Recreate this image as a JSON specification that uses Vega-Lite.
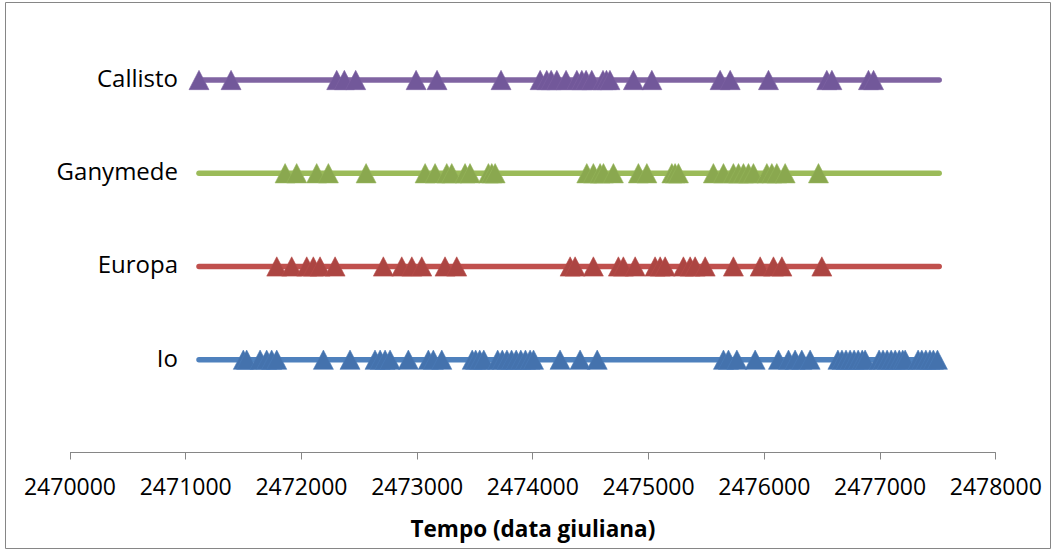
{
  "$schema": "https://vega.github.io/schema/vega-lite/v6.json",
  "width": 1045,
  "height": 546,
  "autosize": {"type": "none"},
  "padding": {"left": 5, "top": 2, "right": 4, "bottom": 1},
  "background": "white",
  "config": {"view": {"stroke": "#868686", "strokeWidth": 1}, "font": "Open Sans"},
  "datasets": {
    "lines": [
      {"moon": "Callisto", "start": 2471119, "end": 2477515},
      {"moon": "Ganymede", "start": 2471119, "end": 2477515},
      {"moon": "Europa", "start": 2471119, "end": 2477515},
      {"moon": "Io", "start": 2471119, "end": 2477515}
    ],
    "events": [
      {"moon": "Callisto", "t": 2471119}, {"moon": "Callisto", "t": 2471396}, {"moon": "Callisto", "t": 2472309}, {"moon": "Callisto", "t": 2472375}, {"moon": "Callisto", "t": 2472473}, {"moon": "Callisto", "t": 2472995}, {"moon": "Callisto", "t": 2473176}, {"moon": "Callisto", "t": 2473729}, {"moon": "Callisto", "t": 2474067}, {"moon": "Callisto", "t": 2474124}, {"moon": "Callisto", "t": 2474162}, {"moon": "Callisto", "t": 2474211}, {"moon": "Callisto", "t": 2474291}, {"moon": "Callisto", "t": 2474384}, {"moon": "Callisto", "t": 2474427}, {"moon": "Callisto", "t": 2474464}, {"moon": "Callisto", "t": 2474513}, {"moon": "Callisto", "t": 2474610}, {"moon": "Callisto", "t": 2474640}, {"moon": "Callisto", "t": 2474670}, {"moon": "Callisto", "t": 2474873}, {"moon": "Callisto", "t": 2475032}, {"moon": "Callisto", "t": 2475622}, {"moon": "Callisto", "t": 2475709}, {"moon": "Callisto", "t": 2476040}, {"moon": "Callisto", "t": 2476544}, {"moon": "Callisto", "t": 2476588}, {"moon": "Callisto", "t": 2476904}, {"moon": "Callisto", "t": 2476948},
      {"moon": "Ganymede", "t": 2471863}, {"moon": "Ganymede", "t": 2471963}, {"moon": "Ganymede", "t": 2472136}, {"moon": "Ganymede", "t": 2472237}, {"moon": "Ganymede", "t": 2472563}, {"moon": "Ganymede", "t": 2473073}, {"moon": "Ganymede", "t": 2473159}, {"moon": "Ganymede", "t": 2473260}, {"moon": "Ganymede", "t": 2473303}, {"moon": "Ganymede", "t": 2473418}, {"moon": "Ganymede", "t": 2473461}, {"moon": "Ganymede", "t": 2473620}, {"moon": "Ganymede", "t": 2473649}, {"moon": "Ganymede", "t": 2473678}, {"moon": "Ganymede", "t": 2474470}, {"moon": "Ganymede", "t": 2474527}, {"moon": "Ganymede", "t": 2474585}, {"moon": "Ganymede", "t": 2474614}, {"moon": "Ganymede", "t": 2474700}, {"moon": "Ganymede", "t": 2474916}, {"moon": "Ganymede", "t": 2474989}, {"moon": "Ganymede", "t": 2475205}, {"moon": "Ganymede", "t": 2475233}, {"moon": "Ganymede", "t": 2475262}, {"moon": "Ganymede", "t": 2475564}, {"moon": "Ganymede", "t": 2475651}, {"moon": "Ganymede", "t": 2475737}, {"moon": "Ganymede", "t": 2475781}, {"moon": "Ganymede", "t": 2475824}, {"moon": "Ganymede", "t": 2475867}, {"moon": "Ganymede", "t": 2475910}, {"moon": "Ganymede", "t": 2476026}, {"moon": "Ganymede", "t": 2476069}, {"moon": "Ganymede", "t": 2476112}, {"moon": "Ganymede", "t": 2476184}, {"moon": "Ganymede", "t": 2476472},
      {"moon": "Europa", "t": 2471791}, {"moon": "Europa", "t": 2471920}, {"moon": "Europa", "t": 2472050}, {"moon": "Europa", "t": 2472107}, {"moon": "Europa", "t": 2472165}, {"moon": "Europa", "t": 2472295}, {"moon": "Europa", "t": 2472712}, {"moon": "Europa", "t": 2472871}, {"moon": "Europa", "t": 2472958}, {"moon": "Europa", "t": 2473044}, {"moon": "Europa", "t": 2473245}, {"moon": "Europa", "t": 2473346}, {"moon": "Europa", "t": 2474326}, {"moon": "Europa", "t": 2474369}, {"moon": "Europa", "t": 2474527}, {"moon": "Europa", "t": 2474743}, {"moon": "Europa", "t": 2474786}, {"moon": "Europa", "t": 2474888}, {"moon": "Europa", "t": 2475060}, {"moon": "Europa", "t": 2475104}, {"moon": "Europa", "t": 2475147}, {"moon": "Europa", "t": 2475305}, {"moon": "Europa", "t": 2475363}, {"moon": "Europa", "t": 2475406}, {"moon": "Europa", "t": 2475493}, {"moon": "Europa", "t": 2475737}, {"moon": "Europa", "t": 2475968}, {"moon": "Europa", "t": 2476083}, {"moon": "Europa", "t": 2476156}, {"moon": "Europa", "t": 2476501},
      {"moon": "Io", "t": 2471502}, {"moon": "Io", "t": 2471531}, {"moon": "Io", "t": 2471647}, {"moon": "Io", "t": 2471704}, {"moon": "Io", "t": 2471747}, {"moon": "Io", "t": 2471791}, {"moon": "Io", "t": 2472194}, {"moon": "Io", "t": 2472424}, {"moon": "Io", "t": 2472640}, {"moon": "Io", "t": 2472684}, {"moon": "Io", "t": 2472727}, {"moon": "Io", "t": 2472770}, {"moon": "Io", "t": 2472928}, {"moon": "Io", "t": 2473101}, {"moon": "Io", "t": 2473144}, {"moon": "Io", "t": 2473217}, {"moon": "Io", "t": 2473480}, {"moon": "Io", "t": 2473510}, {"moon": "Io", "t": 2473545}, {"moon": "Io", "t": 2473580}, {"moon": "Io", "t": 2473700}, {"moon": "Io", "t": 2473740}, {"moon": "Io", "t": 2473780}, {"moon": "Io", "t": 2473820}, {"moon": "Io", "t": 2473860}, {"moon": "Io", "t": 2473900}, {"moon": "Io", "t": 2473940}, {"moon": "Io", "t": 2473980}, {"moon": "Io", "t": 2474010}, {"moon": "Io", "t": 2474239}, {"moon": "Io", "t": 2474412}, {"moon": "Io", "t": 2474560}, {"moon": "Io", "t": 2475651}, {"moon": "Io", "t": 2475694}, {"moon": "Io", "t": 2475767}, {"moon": "Io", "t": 2475925}, {"moon": "Io", "t": 2476126}, {"moon": "Io", "t": 2476213}, {"moon": "Io", "t": 2476270}, {"moon": "Io", "t": 2476328}, {"moon": "Io", "t": 2476400}, {"moon": "Io", "t": 2476640}, {"moon": "Io", "t": 2476675}, {"moon": "Io", "t": 2476710}, {"moon": "Io", "t": 2476745}, {"moon": "Io", "t": 2476780}, {"moon": "Io", "t": 2476815}, {"moon": "Io", "t": 2476850}, {"moon": "Io", "t": 2476875}, {"moon": "Io", "t": 2476996}, {"moon": "Io", "t": 2477030}, {"moon": "Io", "t": 2477065}, {"moon": "Io", "t": 2477100}, {"moon": "Io", "t": 2477135}, {"moon": "Io", "t": 2477170}, {"moon": "Io", "t": 2477200}, {"moon": "Io", "t": 2477221}, {"moon": "Io", "t": 2477333}, {"moon": "Io", "t": 2477365}, {"moon": "Io", "t": 2477400}, {"moon": "Io", "t": 2477435}, {"moon": "Io", "t": 2477465}, {"moon": "Io", "t": 2477500}
    ]
  },
  "layer": [
    {
      "data": {"name": "lines"},
      "mark": {"type": "rule", "strokeWidth": 5.5, "strokeCap": "round"},
      "encoding": {
        "x": {
          "field": "start", "type": "quantitative",
          "scale": {"domain": [2470000, 2478000], "range": [64.5, 990.3], "nice": false, "zero": false},
          "axis": {
            "values": [2470000, 2471000, 2472000, 2473000, 2474000, 2475000, 2476000, 2477000, 2478000],
            "format": "d", "offset": -96, "grid": false,
            "domainColor": "#868686", "domainWidth": 1,
            "tickColor": "#868686", "tickSize": 7, "tickWidth": 1,
            "labelFont": "Open Sans", "labelFontSize": 23, "labelColor": "black", "labelPadding": 17,
            "labelFlush": false, "labelOverlap": false,
            "title": "Tempo (data giuliana)", "titleFont": "Open Sans", "titleFontSize": 22.5,
            "titleFontWeight": "bold", "titleColor": "black", "titleX": 527.4, "titleY": 66, "titleBaseline": "top"
          }
        },
        "x2": {"field": "end"},
        "y": {"field": "moon", "type": "nominal", "scale": {"type": "point", "domain": ["Callisto", "Ganymede", "Europa", "Io"], "range": [78, 357.7], "padding": 0}, "axis": null},
        "color": {"field": "moon", "type": "nominal", "scale": {"domain": ["Callisto", "Ganymede", "Europa", "Io"], "range": ["#8064A2", "#9BBB59", "#C0504D", "#4F81BD"]}, "legend": null}
      }
    },
    {
      "data": {"name": "events"},
      "mark": {"type": "point", "shape": "M0,-0.965L1,0.965L-1,0.965Z", "filled": true, "size": 400, "opacity": 1, "strokeWidth": 0.6},
      "encoding": {
        "x": {"field": "t", "type": "quantitative"},
        "y": {"field": "moon", "type": "nominal"},
        "fill": {"field": "moon", "type": "nominal", "scale": {"domain": ["Callisto", "Ganymede", "Europa", "Io"], "range": ["#72589A", "#8AA84F", "#AC4542", "#4472AD"]}, "legend": null},
        "stroke": {"field": "moon", "type": "nominal", "scale": {"domain": ["Callisto", "Ganymede", "Europa", "Io"], "range": ["#7E63A3", "#96B65A", "#B94D4A", "#4C7CB8"]}, "legend": null}
      }
    },
    {
      "data": {"name": "lines"},
      "mark": {"type": "text", "align": "right", "baseline": "middle", "dx": -21, "fontSize": 24, "font": "Open Sans", "color": "black"},
      "encoding": {
        "x": {"field": "start", "type": "quantitative"},
        "y": {"field": "moon", "type": "nominal"},
        "text": {"field": "moon"}
      }
    }
  ]
}
